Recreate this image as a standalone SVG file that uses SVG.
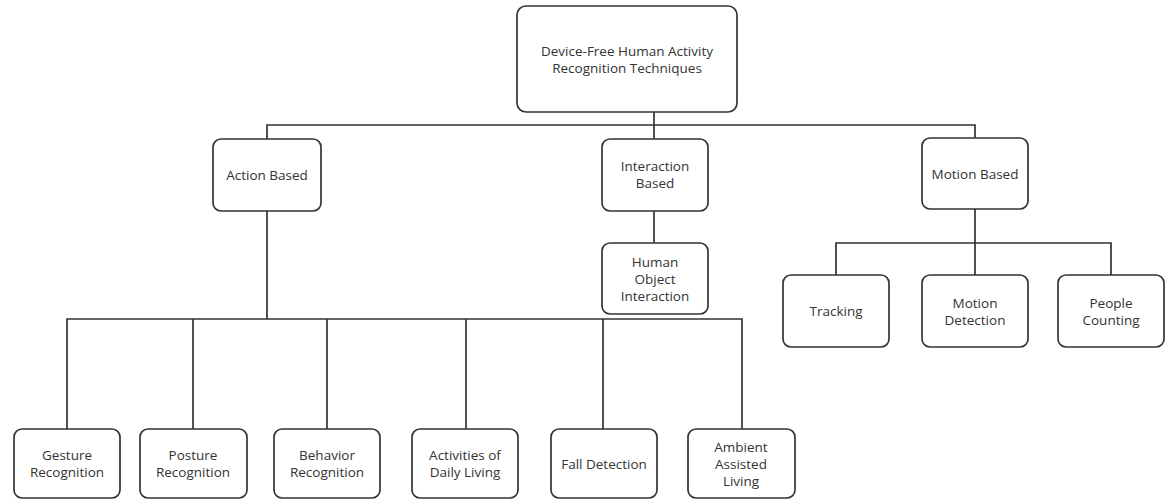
<svg xmlns="http://www.w3.org/2000/svg" width="1167" height="500" viewBox="0 0 1167 500">
<style>
.box{fill:#fff;stroke:#333;stroke-width:1.7}
.ln{fill:none;stroke:#333;stroke-width:1.7}
text{font-family:"Open Sans","Liberation Sans",sans-serif;font-size:13.5px;fill:#333;text-anchor:middle;dominant-baseline:central}
</style>
<rect width="1167" height="500" fill="#fff"/>
<g id="connectors">
<path class="ln" d="M654 112V139M267 139V125H975V139"/>
<path class="ln" d="M654 211V243"/>
<path class="ln" d="M267 211V319M67 429V319H742V429M193 319V429M327 319V429M466 319V429M603 319V429"/>
<path class="ln" d="M975 209V243M836 275V243H1111V275M975 243V275"/>
</g>
<g id="root"><rect class="box" x="517" y="6" width="220" height="106" rx="9"/><text x="627" y="51">Device-Free Human Activity</text><text x="627" y="68">Recognition Techniques</text></g>
<g id="action"><rect class="box" x="213" y="139" width="108" height="72" rx="8"/><text x="267" y="175">Action Based</text></g>
<g id="interaction"><rect class="box" x="602" y="139" width="106" height="72" rx="8"/><text x="655" y="166">Interaction</text><text x="655" y="183">Based</text></g>
<g id="motion"><rect class="box" x="922" y="138" width="106" height="71" rx="8"/><text x="975" y="174">Motion Based</text></g>
<g id="hoi"><rect class="box" x="602" y="243" width="106" height="71" rx="8"/><text x="655" y="262">Human</text><text x="655" y="279">Object</text><text x="655" y="296">Interaction</text></g>
<g id="tracking"><rect class="box" x="783" y="275" width="106" height="72" rx="8"/><text x="836" y="311">Tracking</text></g>
<g id="motiondet"><rect class="box" x="922" y="275" width="106" height="72" rx="8"/><text x="975" y="303">Motion</text><text x="975" y="320">Detection</text></g>
<g id="people"><rect class="box" x="1058" y="275" width="106" height="72" rx="8"/><text x="1111" y="303">People</text><text x="1111" y="320">Counting</text></g>
<g id="gesture"><rect class="box" x="14" y="429" width="106" height="69" rx="8"/><text x="67" y="455">Gesture</text><text x="67" y="472">Recognition</text></g>
<g id="posture"><rect class="box" x="140" y="429" width="107" height="69" rx="8"/><text x="193" y="455">Posture</text><text x="193" y="472">Recognition</text></g>
<g id="behavior"><rect class="box" x="274" y="429" width="106" height="69" rx="8"/><text x="327" y="455">Behavior</text><text x="327" y="472">Recognition</text></g>
<g id="adl"><rect class="box" x="412" y="429" width="106" height="69" rx="8"/><text x="465" y="455">Activities of</text><text x="465" y="472">Daily Living</text></g>
<g id="fall"><rect class="box" x="551" y="429" width="106" height="69" rx="8"/><text x="604" y="464">Fall Detection</text></g>
<g id="ambient"><rect class="box" x="688" y="429" width="107" height="69" rx="8"/><text x="741" y="447">Ambient</text><text x="741" y="464">Assisted</text><text x="741" y="481">Living</text></g>
</svg>
